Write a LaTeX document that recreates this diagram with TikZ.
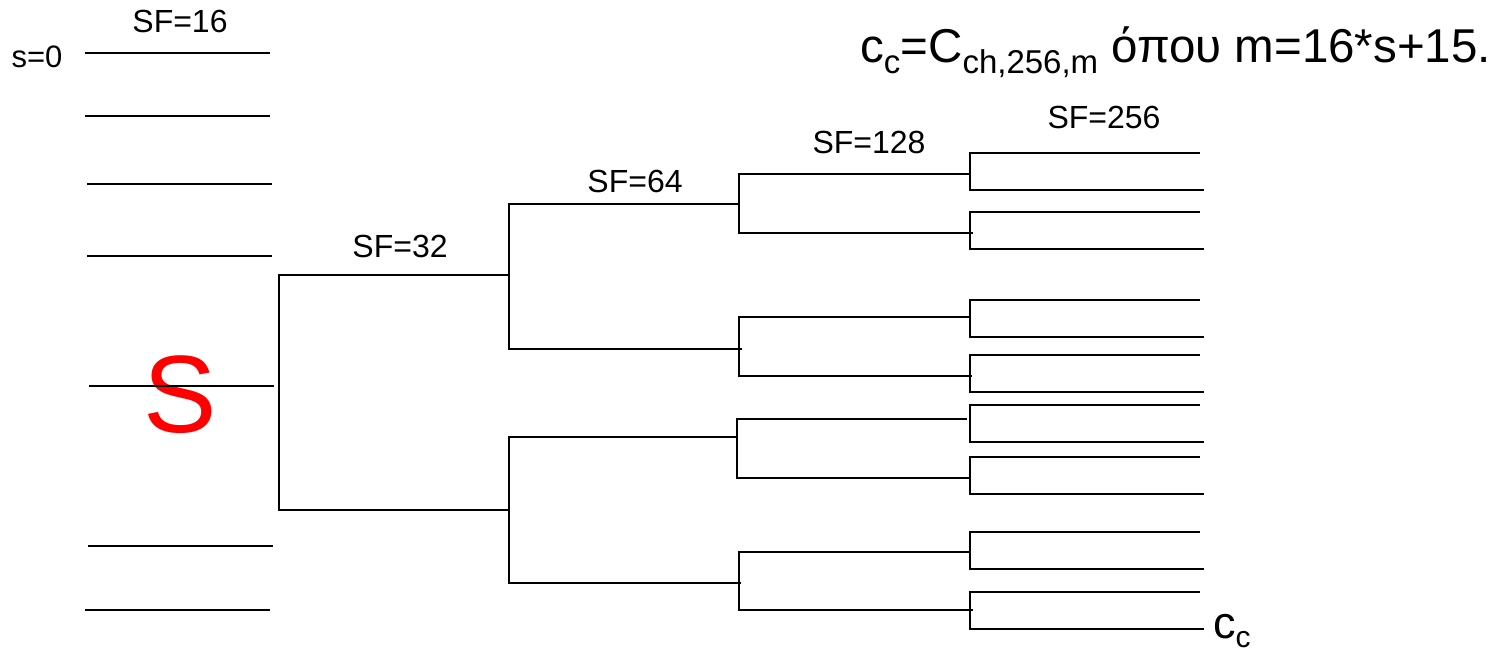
\documentclass[tikz,border=0pt]{standalone}
\usepackage{fontspec}
\setmainfont{Liberation Sans}
\begin{document}
\begin{tikzpicture}[x=1pt,y=-1pt,
  ln/.style={line width=1.5pt,line cap=rect},
  lbl/.style={inner sep=0pt,anchor=base,font=\fontsize{32}{32}\selectfont}]
\useasboundingbox (0,0) rectangle (1512,653);
% red S behind the line
\node[inner sep=0pt,anchor=base,text=red,font=\fontsize{110}{110}\selectfont] (S) at (180,432) {S};
% SF=16 lines
\foreach \xa/\xb/\y in {86/269/53, 86/269/116, 88/271/184, 88/271/256, 90/273/386, 89/272/546, 86/269/610}
  \draw[ln] (\xa,\y) -- (\xb,\y);
% SF=32 bracket
\draw[ln] (508,275) -- (279,275) -- (279,510) -- (508,510);
% SF=64 brackets
\draw[ln] (737,204) -- (509,204) -- (509,349) -- (741,349);
\draw[ln] (737,437) -- (509,437) -- (509,583) -- (740,583);
% SF=128 brackets
\draw[ln] (968,174) -- (739,174) -- (739,233) -- (972,233);
\draw[ln] (968,317) -- (739,317) -- (739,376) -- (971,376);
\draw[ln] (966,419) -- (737,419) -- (737,478) -- (970,478);
\draw[ln] (968,552) -- (739,552) -- (739,610) -- (972,610);
% SF=256 leaves
\foreach \t/\b in {153/190, 212/249, 300/337, 355/392, 405/442, 457/494, 532/569, 592/629}
  \draw[ln] (1199,\t) -- (970,\t) -- (970,\b) -- (1203,\b);
% labels
\node[lbl,font=\fontsize{31}{31}\selectfont] (s0) at (37,67) {s=0};
\node[lbl] (sf16) at (180,32) {SF=16};
\node[lbl] (sf32) at (400,257) {SF=32};
\node[lbl] (sf64) at (635,192) {SF=64};
\node[lbl] (sf128) at (869,153) {SF=128};
\node[lbl] (sf256) at (1104,128) {SF=256};
\node[inner sep=0pt,anchor=base west,font=\fontsize{45}{45}\selectfont] (cc) at (1213,638)
  {c\raisebox{-9pt}{\fontsize{30}{30}\selectfont c}};
\node[inner sep=0pt,anchor=base west,font=\fontsize{47.5}{47.5}\selectfont] (formula) at (860,62)
  {c\raisebox{-11pt}{\fontsize{33}{33}\selectfont c}=C\raisebox{-11pt}{\fontsize{33}{33}\selectfont ch,256,m} όπου m=16*s+15.};
\end{tikzpicture}
\end{document}
